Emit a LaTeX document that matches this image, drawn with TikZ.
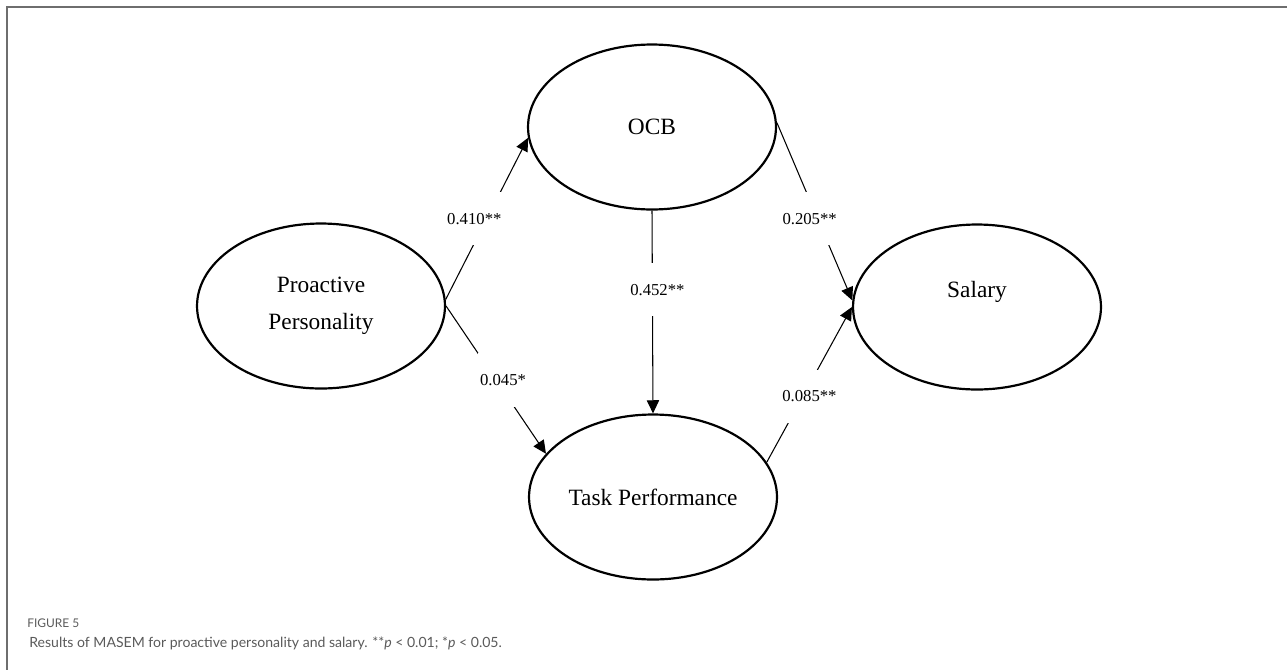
\documentclass[tikz,border=0pt]{standalone}
\usepackage{fontspec}
\setmainfont{Liberation Serif}
\newfontfamily\capfont{Lato}
\usepackage{xcolor}
\usetikzlibrary{shapes.geometric, arrows.meta, positioning, calc}

\definecolor{framegray}{HTML}{6E6E6E}
\definecolor{capgray}{HTML}{5A5A5A}
\newcommand{\latentfont}{\fontsize{13.3}{21}\selectfont}

\tikzset{
  latent/.style={ellipse, draw, line width=1.25pt, minimum width=4.96cm, minimum height=3.3cm,
    inner sep=0pt, align=center, font=\latentfont},
  effect/.style={line width=0.6pt, -{Triangle[length=7.5pt,width=7pt]}},
  coef/.style={fill=white, inner xsep=1pt, inner ysep=12pt, font=\fontsize{9.5}{11}\selectfont}
}

\begin{document}
\begin{tikzpicture}[x=0.02cm, y=-0.02cm]
\useasboundingbox (0,0) rectangle (1287,670);
% Frame
\draw[framegray, line width=1.1pt] (1287,7) -- (7,7) -- (7,670);

% Latent variables
\node[latent] (pp) at (321,306) {Proactive\\Personality};
\node[latent] (ocb) at (652,127) {OCB};
\node[latent] (tp) at (653,497) {Task Performance};
\node[latent, label={[yshift=0.3cm, font=\latentfont]center:Salary}] (sal) at (977,307) {};

% Paths
\draw[effect] (pp.3) -- node[coef, xshift=-0.25cm] {0.410**} (ocb.185);
\draw[effect] (pp.east) -- node[coef, xshift=0.14cm] {0.045*} (tp.158);
\draw[effect] (ocb.south) -- node[coef, pos=0.39, xshift=0.1cm] {0.452**} (tp.north);
\draw[effect] (ocb.2) -- node[coef, pos=0.54, xshift=-0.16cm] {0.205**} (sal.177);
\draw[effect] (tp.17) -- node[coef, pos=0.425, xshift=0.13cm] {0.085**} (sal.180);

% Caption
\node[anchor=base west, inner sep=0pt, text=capgray, font=\capfont\fontsize{6.8}{9}\selectfont] (fig) at (27,627) {FIGURE 5};
\node[anchor=base west, inner sep=0pt, text=capgray, font=\capfont\fontsize{8}{10}\selectfont] (cap) at (29,647)
  {Results of MASEM for proactive personality and salary. **\textit{p} < 0.01; *\textit{p} < 0.05.};
\end{tikzpicture}
\end{document}
